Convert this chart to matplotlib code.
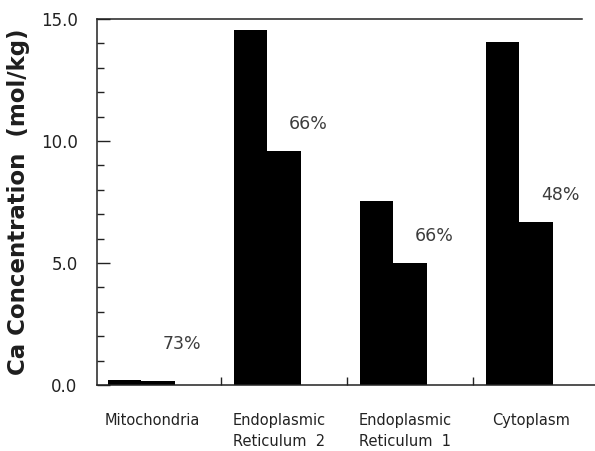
import numpy as np
import matplotlib
matplotlib.use("Agg")
import matplotlib.pyplot as plt

# Ca concentration per compartment, two measurements each (mol/kg)
compartments = ["Mitochondria", "Endoplasmic\nReticulum  2", "Endoplasmic\nReticulum  1", "Cytoplasm"]
first_vals = [0.22, 14.55, 7.55, 14.05]
second_vals = [0.16, 9.6, 5.0, 6.7]
yticks = [0.0, 5.0, 10.0, 15.0]

plt.rcParams['font.family'] = ['DejaVu Sans']

fig = plt.figure(figsize=(5.95, 4.51), dpi=100)
ax = fig.add_axes([97 / 595, 1 - 385 / 451, 1 - 97 / 595, (385 - 19) / 451])

x = np.arange(len(compartments))
w = 0.265
ax.bar(x - w / 2, first_vals, width=w, color="black", edgecolor="none")
ax.bar(x + w / 2, second_vals, width=w, color="black", edgecolor="none")

# percentage of second value relative to first
for i, (a, b) in enumerate(zip(first_vals, second_vals)):
    pct = int(round(b / a * 100))
    dy = 1.5 if b < 1 else 1.1
    ax.text(x[i] + w / 2 + 0.19, b + dy, f"{pct}%", ha="center", va="center",
            fontsize=12.5, color="#3c3c3c")

ax.set_xlim(-0.353, 3.6)
ax.set_ylim(0, 15)

ax.set_yticks(yticks)
ax.set_yticklabels([f"{v:.1f}" for v in yticks], fontsize=12, color="#222222")
ax.set_yticks(np.arange(0, 15, 1.0), minor=True)
ax.tick_params(axis="y", which="major", direction="in", length=9, width=1.0, pad=14, color="#222222")
ax.tick_params(axis="y", which="minor", direction="in", length=5, width=1.0, color="#222222")

ax.set_xticks(x + 0.09)
ax.set_xticklabels(compartments, fontsize=10.5, color="#222222", linespacing=1.5)
ax.set_xticks(x[:-1] + 0.635, minor=True)
ax.tick_params(axis="x", which="major", length=0, pad=20)
ax.tick_params(axis="x", which="minor", direction="in", length=6, width=1.0, color="#222222")

ax.set_ylabel("Ca Concentration  (mol/kg)", fontsize=16.5, fontweight="bold",
              color="#1e1e1e", labelpad=8)

for s in ["left", "bottom", "top"]:
    ax.spines[s].set_color("#222222")
    ax.spines[s].set_linewidth(1.1)
ax.spines["right"].set_visible(False)
ax.spines["top"].set_bounds(-0.353, 3.5)

fig.savefig("out.png", dpi=100)
